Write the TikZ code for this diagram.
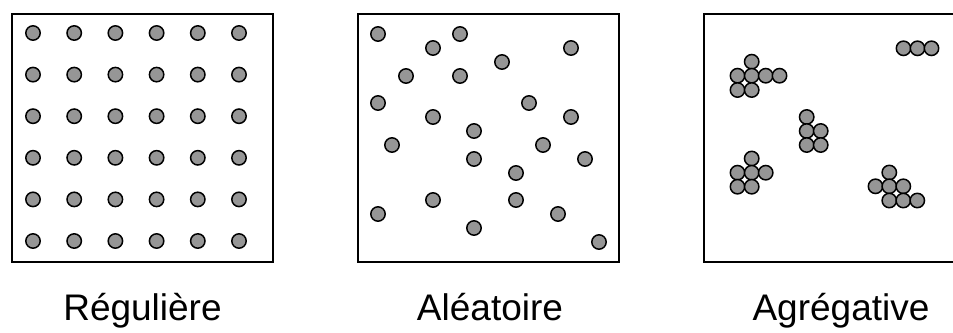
\documentclass[tikz,border=0pt]{standalone}
\usepackage{fontspec}
\setmainfont{Liberation Sans}
\usetikzlibrary{positioning}
\definecolor{dotgray}{RGB}{150,150,150}

\begin{document}
\begin{tikzpicture}[
        x = 1pt, y = -1pt,
        panel/.style = {draw = black, line width = 2pt, minimum width = 261pt, minimum height = 248pt, inner sep = 0pt},
        dot/.style = {circle, draw = black, line width = 1.5pt, fill = dotgray, minimum size = 14.4pt, inner sep = 0pt},
        caption/.style = {anchor = base, font = \fontsize{37}{40}\selectfont}
    ]
    \useasboundingbox (0,0) rectangle (953,332);

    % the three frames
    \node[panel] (p1) at (142.5,138) {};
    \node[panel] (p2) at (488.5,138) {};
    \node[panel] (p3) at (834.5,138) {};

    % regular pattern
    \foreach \i in {0,...,5}
        \foreach \j in {0,...,5}
            \node[dot] (r-\i-\j) at (33+41.2*\i, 33+41.6*\j) {};

    % random pattern
    \node[dot] (a1)  at (378,34)  {};
    \node[dot] (a2)  at (460,34)  {};
    \node[dot] (a3)  at (433,48)  {};
    \node[dot] (a4)  at (571,48)  {};
    \node[dot] (a5)  at (502,62)  {};
    \node[dot] (a6)  at (406,76)  {};
    \node[dot] (a7)  at (460,76)  {};
    \node[dot] (a8)  at (378,103) {};
    \node[dot] (a9)  at (529,103) {};
    \node[dot] (a10) at (433,117) {};
    \node[dot] (a11) at (571,117) {};
    \node[dot] (a12) at (474,131) {};
    \node[dot] (a13) at (392,145) {};
    \node[dot] (a14) at (543,145) {};
    \node[dot] (a15) at (474,159) {};
    \node[dot] (a16) at (585,159) {};
    \node[dot] (a17) at (516,173) {};
    \node[dot] (a18) at (433,200) {};
    \node[dot] (a19) at (516,200) {};
    \node[dot] (a20) at (378,214) {};
    \node[dot] (a21) at (558,214) {};
    \node[dot] (a22) at (474,228) {};
    \node[dot] (a23) at (599,242) {};

    % clustered pattern
    \node[dot] (g1)  at (751.7,61.7)  {};
    \node[dot] (g2)  at (737.5,75.7)  {};
    \node[dot] (g3)  at (751.7,75.7)  {};
    \node[dot] (g4)  at (765.7,75.7)  {};
    \node[dot] (g5)  at (779.5,75.7)  {};
    \node[dot] (g6)  at (737.5,90)    {};
    \node[dot] (g7)  at (751.7,90)    {};

    \node[dot] (g8)  at (903.5,48.3)  {};
    \node[dot] (g9)  at (917.5,48.3)  {};
    \node[dot] (g10) at (931.5,48.3)  {};

    \node[dot] (g11) at (806.7,117)   {};
    \node[dot] (g12) at (806.7,131)   {};
    \node[dot] (g13) at (820.7,131)   {};
    \node[dot] (g14) at (806.7,145)   {};
    \node[dot] (g15) at (820.7,145)   {};

    \node[dot] (g16) at (751.7,158.5) {};
    \node[dot] (g17) at (737.5,172.7) {};
    \node[dot] (g18) at (751.7,172.7) {};
    \node[dot] (g19) at (765.7,172.7) {};
    \node[dot] (g20) at (737.5,186.7) {};
    \node[dot] (g21) at (751.7,186.7) {};

    \node[dot] (g22) at (889.3,172.5) {};
    \node[dot] (g23) at (875.5,186.3) {};
    \node[dot] (g24) at (889.3,186.3) {};
    \node[dot] (g25) at (903.3,186.3) {};
    \node[dot] (g26) at (889.3,200.5) {};
    \node[dot] (g27) at (903.3,200.5) {};
    \node[dot] (g28) at (917.3,200.5) {};

    % captions
    \node[caption] (t1) at (142.5,320) {Régulière};
    \node[caption] (t2) at (490,320)   {Aléatoire};
    \node[caption] (t3) at (841,320)   {Agrégative};
\end{tikzpicture}
\end{document}
